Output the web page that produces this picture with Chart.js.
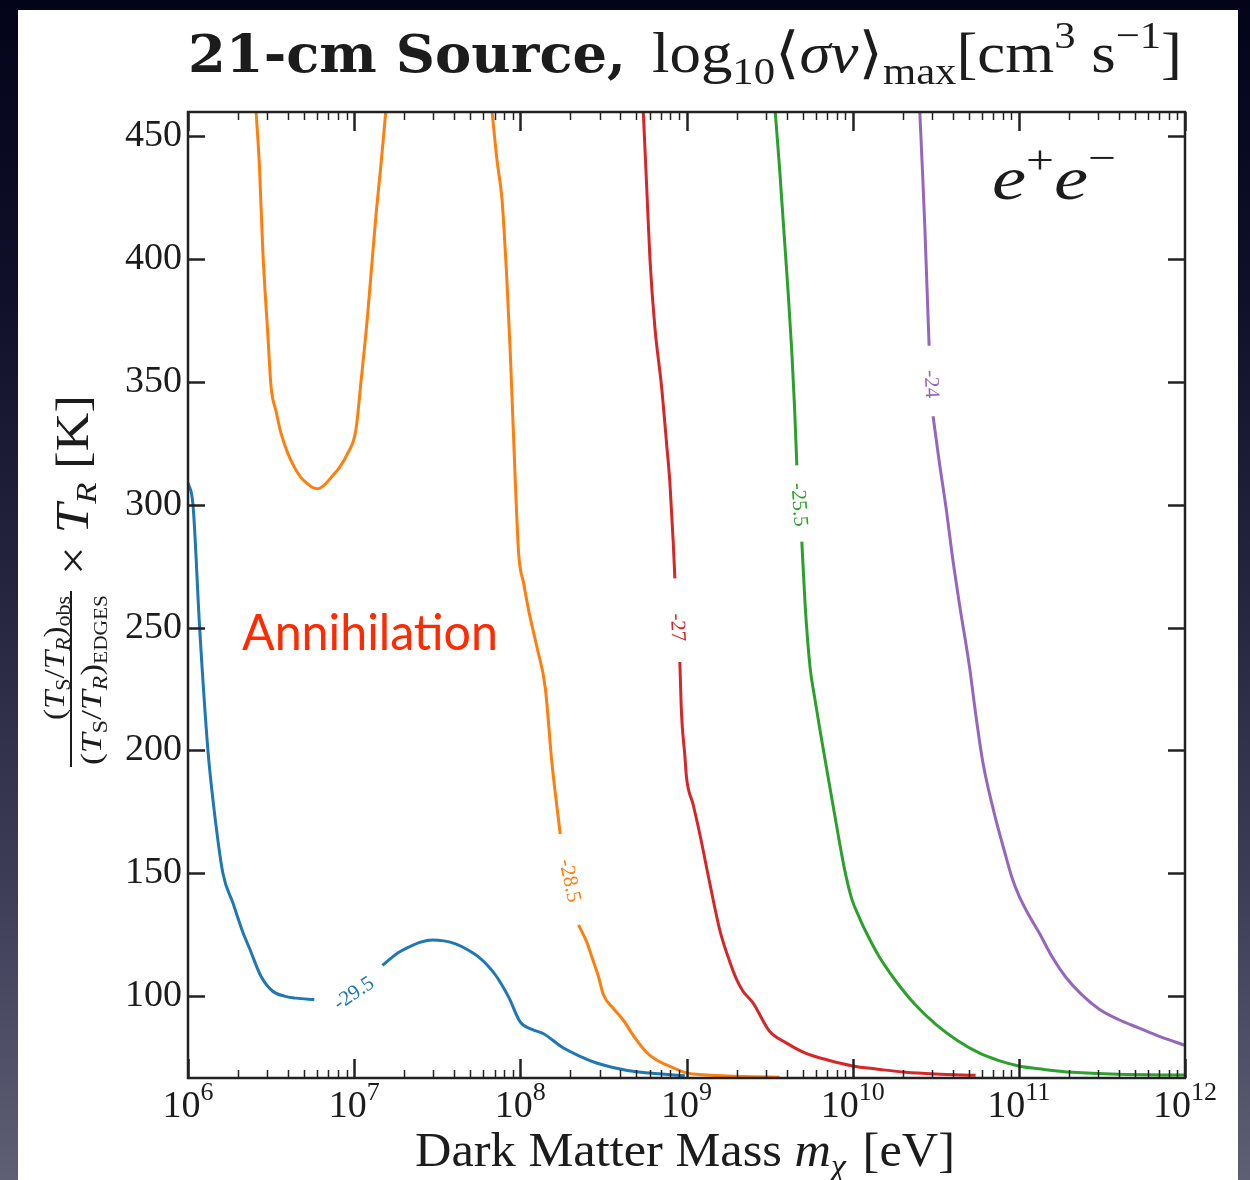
<!DOCTYPE html>
<html>
<head>
<meta charset="utf-8">
<script src="https://cdn.jsdelivr.net/npm/chart.js@4/dist/chart.umd.min.js"></script>
<style>
  html, body { margin: 0; padding: 0; width: 1250px; height: 1180px; overflow: hidden; }
  body { background: linear-gradient(to bottom, #03031a 0%, #10102a 25%, #25253f 50%, #3d3d58 75%, #5e5e74 100%); }
  #panel { position: absolute; left: 18px; top: 10px; width: 1220px; height: 1170px; background: #ffffff; }
  #wrap { position: absolute; left: 0; top: 0; width: 1250px; height: 1180px; }
</style>
</head>
<body>
<div id="panel"></div>
<div id="wrap"><canvas id="c" width="1250" height="1180"></canvas></div>
<script>
// Axis ticks
const decades = [6, 7, 8, 9, 10, 11, 12];
const yTickValues = [100, 150, 200, 250, 300, 350, 400, 450];

// Contour lines of log10<sigma v>_max, split where the inline label sits.
// x: log10 of dark matter mass in eV, y: (Ts/TR)obs/(Ts/TR)EDGES x TR in K
const lgMassBlueA = [6.00, 6.03, 6.07, 6.12, 6.15, 6.21, 6.27, 6.33, 6.37, 6.44, 6.51, 6.58, 6.65, 6.76];
const ttrBlueA    = [309, 300, 250, 200, 180, 150, 138, 126, 119.5, 108, 102, 100, 99.2, 98.6];
const lgMassBlueB = [7.17, 7.25, 7.33, 7.40, 7.47, 7.54, 7.61, 7.68, 7.75, 7.81, 7.86, 7.93, 8.00, 8.07, 8.14, 8.25, 8.37, 8.45, 8.55, 8.71, 8.85, 8.99];
const ttrBlueB    = [112.5, 117, 120, 122, 122.9, 122.5, 121.3, 119, 115.9, 112, 107.7, 99.6, 89.4, 86.5, 84.7, 79.3, 75.2, 73, 71.1, 69.1, 68.3, 67.6];

const lgMassOrangeU = [6.41, 6.43, 6.45, 6.48, 6.50, 6.53, 6.56, 6.60, 6.64, 6.68, 6.72, 6.75, 6.78, 6.82, 6.86, 6.91, 6.96, 7.01, 7.04, 7.08, 7.13, 7.16, 7.19];
const ttrOrangeU    = [459.8, 437.5, 403.6, 369.6, 347.9, 338, 329, 321, 315.3, 311, 308.5, 307, 306.5, 308, 311, 315, 320.8, 330.3, 349.3, 376.4, 417, 437.5, 459.8];
const lgMassOrangeA = [7.83, 7.86, 7.89, 7.92, 7.94, 7.97, 7.99, 8.02, 8.05, 8.10, 8.15, 8.19, 8.24];
const ttrOrangeA    = [459.8, 440, 424, 390, 361, 309, 280, 268, 257, 242, 225.5, 195, 166];
const lgMassOrangeB = [8.35, 8.40, 8.43, 8.47, 8.50, 8.56, 8.62, 8.69, 8.76, 8.82, 8.88, 8.95, 9.00, 9.10, 9.25, 9.40, 9.56];
const ttrOrangeB    = [129, 122, 116, 108, 100.6, 95, 90.2, 83, 77.1, 74, 72, 70, 68.8, 68, 67.5, 67.2, 67.0];

const lgMassRedA = [8.74, 8.76, 8.78, 8.81, 8.85, 8.88, 8.90, 8.92, 8.93];
const ttrRedA    = [459.8, 430, 400, 372, 348, 325, 309, 285, 270];
const lgMassRedB = [8.96, 8.97, 8.99, 9.00, 9.04, 9.08, 9.14, 9.20, 9.25, 9.30, 9.34, 9.40, 9.50, 9.60, 9.72, 9.85, 10.0, 10.15, 10.32, 10.50, 10.74];
const ttrRedB    = [236, 215, 198, 189, 178, 166, 146, 127, 116, 107, 102, 97.3, 85.7, 81, 76.7, 74, 71.6, 70.3, 69, 68.3, 67.8];

const lgMassGreenA = [9.534, 9.56, 9.584, 9.61, 9.634, 9.65, 9.664];
const ttrGreenA    = [459.8, 437, 413.5, 388, 362, 340, 316];
const lgMassGreenB = [9.694, 9.714, 9.744, 9.77, 9.804, 9.85, 9.904, 9.95, 9.994, 10.04, 10.084, 10.16, 10.244, 10.37, 10.504, 10.63, 10.764, 10.88, 11.0, 11.15, 11.324, 11.6, 12.0];
const ttrGreenB    = [285, 259, 233.6, 222, 208, 190, 169, 152, 139.7, 132, 125.6, 116, 107.6, 97, 88.3, 82, 76.8, 73.8, 71.6, 70.2, 69, 68.2, 67.9];

const lgMassPurpleA = [10.404, 10.42, 10.434, 10.447, 10.46];
const ttrPurpleA    = [459.8, 436, 413.5, 389, 364.7];
const lgMassPurpleB = [10.484, 10.52, 10.564, 10.60, 10.644, 10.704, 10.74, 10.784, 10.85, 10.924, 10.96, 11.0, 11.06, 11.124, 11.2, 11.284, 11.38, 11.484, 11.6, 11.724, 11.85, 12.0];
const ttrPurpleB    = [336, 318, 297.8, 279, 259, 233.6, 215, 195, 175, 156.4, 148, 141, 133, 125.6, 116, 107.6, 100.5, 94.7, 90.5, 87, 83.5, 80];

// Inline contour labels
const levelText   = ['-29.5', '-28.5', '-27', '-25.5', '-24'];
const levelLgMass = [7.0, 8.295, 8.943, 9.675, 10.47];
const levelTTR    = [101, 147, 250, 300, 349];

const C_BLUE = '#1f77b4', C_ORANGE = '#ff7f0e', C_RED = '#d62728', C_GREEN = '#2ca02c', C_PURPLE = '#9467bd';
const levelColor = [C_BLUE, C_ORANGE, C_RED, C_GREEN, C_PURPLE];
const levelAngle = [-34, 78, 87, 86, 87];

const SERIF = '"Liberation Serif", "DejaVu Serif", serif';
const INK = '#1c1c1c';

function pts(lg, v) { return lg.map((l, i) => ({ x: Math.pow(10, l), y: v[i] })); }
function seg(lg, v, color) {
  return { data: pts(lg, v), borderColor: color, borderWidth: 3, pointRadius: 0, fill: false,
           cubicInterpolationMode: 'monotone', borderCapStyle: 'butt', borderJoinStyle: 'round' };
}

// Draws a run of text pieces (mixed fonts / raised or lowered), optionally stretched to a width
function drawRuns(ctx, runs, x0, baseline, targetWidth) {
  let total = 0;
  const widths = runs.map(r => { ctx.font = r.f; const w = ctx.measureText(r.t).width + (r.gap || 0); total += w; return w; });
  const sx = targetWidth ? targetWidth / total : 1;
  ctx.save();
  ctx.translate(x0, baseline);
  ctx.scale(sx, 1);
  ctx.textAlign = 'left';
  ctx.textBaseline = 'alphabetic';
  let x = 0;
  runs.forEach((r, i) => { ctx.font = r.f; ctx.fillText(r.t, x, r.dy || 0); x += widths[i]; });
  ctx.restore();
  return total * sx;
}

const decorPlugin = {
  id: 'decor',
  afterDatasetsDraw(chart) {
    const { ctx, chartArea: a, scales: { x, y } } = chart;
    ctx.save();
    ctx.strokeStyle = '#222';
    ctx.lineCap = 'butt';

    // inward y ticks on both sides
    ctx.lineWidth = 2.5;
    yTickValues.forEach(v => {
      const py = Math.round(y.getPixelForValue(v)) + 0.5;
      ctx.beginPath();
      ctx.moveTo(a.left, py); ctx.lineTo(a.left + 17, py);
      ctx.moveTo(a.right, py); ctx.lineTo(a.right - 17, py);
      ctx.stroke();
    });
    // inward x ticks, major and minor, bottom and top
    decades.forEach(d => {
      const px = Math.round(x.getPixelForValue(Math.pow(10, d))) + 0.5;
      ctx.lineWidth = 2.5;
      ctx.beginPath();
      ctx.moveTo(px, a.bottom); ctx.lineTo(px, a.bottom - 19);
      ctx.moveTo(px, a.top); ctx.lineTo(px, a.top + 19);
      ctx.stroke();
      if (d < 12) {
        ctx.lineWidth = 1.5;
        for (let k = 2; k <= 9; k++) {
          const mx = Math.round(x.getPixelForValue(k * Math.pow(10, d))) + 0.5;
          ctx.beginPath();
          ctx.moveTo(mx, a.bottom); ctx.lineTo(mx, a.bottom - 8);
          ctx.moveTo(mx, a.top); ctx.lineTo(mx, a.top + 8);
          ctx.stroke();
        }
      }
    });
    // frame
    ctx.lineWidth = 2.5;
    ctx.strokeRect(a.left, a.top, a.right - a.left, a.bottom - a.top);

    // contour level labels
    levelText.forEach((t, i) => {
      const px = x.getPixelForValue(Math.pow(10, levelLgMass[i]));
      const py = y.getPixelForValue(levelTTR[i]);
      ctx.save();
      ctx.translate(px, py);
      ctx.rotate(levelAngle[i] * Math.PI / 180);
      ctx.fillStyle = levelColor[i];
      ctx.font = '21px ' + SERIF;
      ctx.textAlign = 'center';
      ctx.textBaseline = 'middle';
      ctx.fillText(t, 0, 0);
      ctx.restore();
    });
    ctx.restore();
  },
  afterDraw(chart) {
    const { ctx, chartArea: a, scales: { x } } = chart;
    ctx.save();
    ctx.fillStyle = INK;

    // x tick labels: 10 with raised exponent
    decades.forEach(d => {
      const px = x.getPixelForValue(Math.pow(10, d));
      ctx.font = '38px ' + SERIF;
      const wb = ctx.measureText('10').width;
      ctx.font = '26px ' + SERIF;
      const we = ctx.measureText(String(d)).width;
      const x0 = px - (wb + we) / 2;
      drawRuns(ctx, [
        { t: '10', f: '38px ' + SERIF },
        { t: String(d), f: '26px ' + SERIF, dy: -17 }
      ], x0, a.bottom + 39);
    });

    // x axis title
    drawRuns(ctx, [
      { t: 'Dark Matter Mass ', f: '48px ' + SERIF },
      { t: 'm', f: 'italic 48px ' + SERIF },
      { t: 'χ', f: 'italic 32px ' + SERIF, dy: 10, gap: 4 },
      { t: ' [eV]', f: '48px ' + SERIF }
    ], 415, 1166, 540);

    // chart title
    drawRuns(ctx, [{ t: '21-cm Source,', f: 'bold 53px "DejaVu Serif", serif' }], 188, 72, 438);
    drawRuns(ctx, [
      { t: 'log', f: '56px ' + SERIF },
      { t: '10', f: '38px ' + SERIF, dy: 12 },
      { t: '⟨', f: '56px "DejaVu Serif", serif' },
      { t: 'σv', f: 'italic 56px ' + SERIF },
      { t: '⟩', f: '56px "DejaVu Serif", serif' },
      { t: 'max', f: '38px ' + SERIF, dy: 12 },
      { t: '[cm', f: '56px ' + SERIF },
      { t: '3', f: '38px ' + SERIF, dy: -24 },
      { t: ' s', f: '56px ' + SERIF },
      { t: '−1', f: '38px ' + SERIF, dy: -24 },
      { t: ']', f: '56px ' + SERIF }
    ], 652, 72, 530);

    // y axis title (rotated, with fraction)
    ctx.save();
    ctx.translate(0, 770);
    ctx.rotate(-Math.PI / 2);
    drawRuns(ctx, [
      { t: '(', f: '30px ' + SERIF },
      { t: 'T', f: 'italic 30px ' + SERIF },
      { t: 'S', f: '20px ' + SERIF, dy: 6 },
      { t: '/', f: '30px ' + SERIF },
      { t: 'T', f: 'italic 30px ' + SERIF },
      { t: 'R', f: 'italic 20px ' + SERIF, dy: 6 },
      { t: ')', f: '30px ' + SERIF },
      { t: 'obs', f: '20px ' + SERIF, dy: 6 }
    ], 50, 64, 124);
    ctx.fillRect(3, 70, 176, 2);
    drawRuns(ctx, [
      { t: '(', f: '30px ' + SERIF },
      { t: 'T', f: 'italic 30px ' + SERIF },
      { t: 'S', f: '20px ' + SERIF, dy: 6 },
      { t: '/', f: '30px ' + SERIF },
      { t: 'T', f: 'italic 30px ' + SERIF },
      { t: 'R', f: 'italic 20px ' + SERIF, dy: 6 },
      { t: ')', f: '30px ' + SERIF },
      { t: 'EDGES', f: '18px ' + SERIF, dy: 6 }
    ], 5, 101, 170);
    drawRuns(ctx, [
      { t: '× ', f: '44px ' + SERIF },
      { t: 'T', f: 'italic 46px ' + SERIF },
      { t: 'R', f: 'italic 30px ' + SERIF, dy: 8 },
      { t: ' [K]', f: '46px ' + SERIF }
    ], 195, 88, 180);
    ctx.restore();

    // channel tag
    drawRuns(ctx, [
      { t: 'e', f: 'italic 62px ' + SERIF },
      { t: '+', f: '40px ' + SERIF, dy: -26 },
      { t: 'e', f: 'italic 62px ' + SERIF },
      { t: '−', f: '40px ' + SERIF, dy: -28 }
    ], 992, 199, 124);

    // process tag
    ctx.fillStyle = '#ff2a00';
    drawRuns(ctx, [{ t: 'Annihilation', f: '50px Lato, "Open Sans", sans-serif' }], 242, 650, 256);
    ctx.restore();
  }
};

new Chart(document.getElementById('c'), {
  type: 'line',
  data: {
    datasets: [
      seg(lgMassBlueA, ttrBlueA, C_BLUE),
      seg(lgMassBlueB, ttrBlueB, C_BLUE),
      seg(lgMassOrangeU, ttrOrangeU, C_ORANGE),
      seg(lgMassOrangeA, ttrOrangeA, C_ORANGE),
      seg(lgMassOrangeB, ttrOrangeB, C_ORANGE),
      seg(lgMassRedA, ttrRedA, C_RED),
      seg(lgMassRedB, ttrRedB, C_RED),
      seg(lgMassGreenA, ttrGreenA, C_GREEN),
      seg(lgMassGreenB, ttrGreenB, C_GREEN),
      seg(lgMassPurpleA, ttrPurpleA, C_PURPLE),
      seg(lgMassPurpleB, ttrPurpleB, C_PURPLE)
    ]
  },
  options: {
    responsive: false,
    animation: false,
    devicePixelRatio: 1,
    layout: { padding: { top: 112, right: 65, left: 0, bottom: 0 } },
    plugins: { legend: { display: false }, tooltip: { enabled: false } },
    scales: {
      x: {
        type: 'logarithmic',
        min: 1e6, max: 1e12,
        afterBuildTicks: s => { s.ticks = decades.map(d => ({ value: Math.pow(10, d) })); },
        afterFit: s => { s.height = 102; },
        ticks: { display: false },
        grid: { display: false, drawTicks: false },
        border: { display: false }
      },
      y: {
        type: 'linear',
        min: 66.7, max: 459.8,
        afterBuildTicks: s => { s.ticks = yTickValues.map(v => ({ value: v })); },
        afterFit: s => { s.width = 188; },
        ticks: { display: true, padding: 6, color: INK, font: { family: SERIF, size: 38 } },
        grid: { display: false, drawTicks: false },
        border: { display: false }
      }
    }
  },
  plugins: [decorPlugin]
});
</script>
</body>
</html>
